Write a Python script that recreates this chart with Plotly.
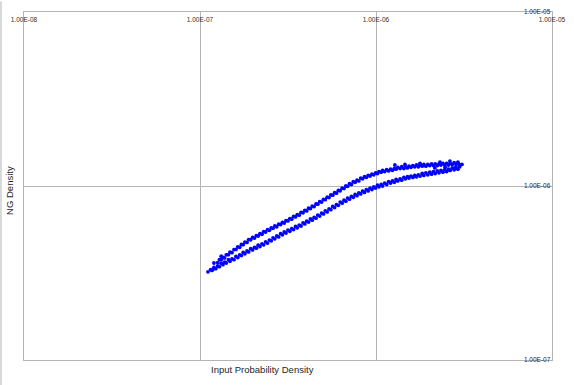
import plotly.graph_objects as go

# ---- data ----
# lower band, centre row
x_lower = [1.15e-7, 1.20e-7, 1.26e-7, 1.32e-7, 1.38e-7, 1.45e-7, 1.52e-7, 1.60e-7, 1.68e-7, 1.76e-7,
           1.85e-7, 1.94e-7, 2.04e-7, 2.14e-7, 2.25e-7, 2.36e-7, 2.48e-7, 2.60e-7, 2.73e-7, 2.87e-7,
           3.01e-7, 3.16e-7, 3.32e-7, 3.49e-7, 3.66e-7, 3.85e-7, 4.04e-7, 4.24e-7, 4.45e-7, 4.67e-7,
           4.91e-7, 5.15e-7, 5.41e-7, 5.68e-7, 5.96e-7, 6.26e-7, 6.58e-7, 6.90e-7, 7.25e-7, 7.61e-7,
           7.99e-7, 8.39e-7, 8.81e-7, 9.25e-7, 9.71e-7,
           1.02e-6, 1.07e-6, 1.12e-6, 1.18e-6, 1.24e-6, 1.30e-6, 1.37e-6, 1.44e-6, 1.51e-6, 1.58e-6,
           1.66e-6, 1.74e-6, 1.83e-6, 1.92e-6, 2.02e-6, 2.12e-6, 2.23e-6, 2.34e-6, 2.46e-6, 2.58e-6,
           2.71e-6, 2.85e-6, 2.99e-6]
y_lower = [3.31e-7, 3.40e-7, 3.47e-7, 3.60e-7, 3.65e-7, 3.77e-7, 3.81e-7, 3.94e-7, 4.02e-7, 4.15e-7,
           4.23e-7, 4.36e-7, 4.44e-7, 4.57e-7, 4.65e-7, 4.77e-7, 4.89e-7, 5.04e-7, 5.16e-7, 5.32e-7,
           5.44e-7, 5.58e-7, 5.69e-7, 5.85e-7, 5.96e-7, 6.14e-7, 6.28e-7, 6.46e-7, 6.60e-7, 6.81e-7,
           6.99e-7, 7.20e-7, 7.38e-7, 7.63e-7, 7.82e-7, 8.08e-7, 8.28e-7, 8.52e-7, 8.72e-7, 8.95e-7,
           9.13e-7, 9.35e-7, 9.52e-7, 9.71e-7, 9.87e-7,
           1.01e-6, 1.02e-6, 1.04e-6, 1.06e-6, 1.07e-6, 1.09e-6, 1.10e-6, 1.12e-6, 1.13e-6, 1.14e-6,
           1.15e-6, 1.16e-6, 1.18e-6, 1.19e-6, 1.20e-6, 1.21e-6, 1.22e-6, 1.23e-6, 1.24e-6, 1.25e-6,
           1.27e-6, 1.28e-6, 1.29e-6]

# lower band, bottom edge row
x_lower_edge = [1.17e-7, 1.23e-7, 1.29e-7, 1.35e-7, 1.41e-7, 1.48e-7, 1.56e-7, 1.64e-7, 1.72e-7, 1.80e-7,
                1.89e-7, 1.99e-7, 2.09e-7, 2.19e-7, 2.30e-7, 2.42e-7, 2.54e-7, 2.66e-7, 2.80e-7, 2.94e-7,
                3.08e-7, 3.24e-7, 3.40e-7, 3.57e-7, 3.75e-7, 3.94e-7, 4.14e-7, 4.34e-7, 4.56e-7, 4.79e-7,
                5.03e-7, 5.28e-7, 5.54e-7, 5.82e-7, 6.11e-7, 6.42e-7, 6.74e-7, 7.07e-7, 7.43e-7, 7.80e-7,
                8.19e-7, 8.60e-7, 9.03e-7, 9.48e-7, 9.95e-7,
                1.04e-6, 1.09e-6, 1.15e-6, 1.21e-6, 1.27e-6, 1.33e-6, 1.40e-6, 1.47e-6, 1.54e-6, 1.62e-6,
                1.70e-6, 1.78e-6, 1.87e-6, 1.97e-6, 2.07e-6, 2.17e-6, 2.28e-6, 2.40e-6, 2.52e-6, 2.64e-6,
                2.78e-6, 2.92e-6]
y_lower_edge = [3.27e-7, 3.35e-7, 3.44e-7, 3.53e-7, 3.61e-7, 3.69e-7, 3.77e-7, 3.88e-7, 3.98e-7, 4.08e-7,
                4.18e-7, 4.29e-7, 4.39e-7, 4.49e-7, 4.59e-7, 4.70e-7, 4.84e-7, 4.97e-7, 5.10e-7, 5.24e-7,
                5.37e-7, 5.49e-7, 5.62e-7, 5.75e-7, 5.89e-7, 6.05e-7, 6.20e-7, 6.36e-7, 6.53e-7, 6.72e-7,
                6.91e-7, 7.10e-7, 7.31e-7, 7.52e-7, 7.74e-7, 7.97e-7, 8.18e-7, 8.40e-7, 8.61e-7, 8.80e-7,
                9.00e-7, 9.19e-7, 9.37e-7, 9.54e-7, 9.73e-7,
                9.89e-7, 1.00e-6, 1.02e-6, 1.04e-6, 1.05e-6, 1.07e-6, 1.08e-6, 1.10e-6, 1.11e-6, 1.12e-6,
                1.13e-6, 1.14e-6, 1.15e-6, 1.16e-6, 1.17e-6, 1.18e-6, 1.19e-6, 1.20e-6, 1.21e-6, 1.23e-6,
                1.24e-6, 1.25e-6]

# upper band, centre row
x_upper = [1.26e-7, 1.32e-7, 1.38e-7, 1.45e-7, 1.52e-7, 1.60e-7, 1.68e-7, 1.76e-7,
           1.85e-7, 1.94e-7, 2.04e-7, 2.14e-7, 2.25e-7, 2.36e-7, 2.48e-7, 2.60e-7, 2.73e-7, 2.87e-7,
           3.01e-7, 3.16e-7, 3.32e-7, 3.49e-7, 3.66e-7, 3.85e-7, 4.04e-7, 4.24e-7, 4.45e-7, 4.67e-7,
           4.91e-7, 5.15e-7, 5.41e-7, 5.68e-7, 5.96e-7, 6.26e-7, 6.58e-7, 6.90e-7, 7.25e-7, 7.61e-7,
           7.99e-7, 8.39e-7, 8.81e-7, 9.25e-7, 9.71e-7,
           1.02e-6, 1.07e-6, 1.12e-6, 1.18e-6, 1.24e-6, 1.30e-6, 1.37e-6, 1.44e-6, 1.51e-6, 1.58e-6,
           1.66e-6, 1.74e-6, 1.83e-6, 1.92e-6, 2.02e-6, 2.12e-6, 2.23e-6, 2.34e-6, 2.46e-6, 2.58e-6,
           2.71e-6, 2.85e-6, 2.99e-6]
y_upper = [3.63e-7, 3.77e-7, 3.86e-7, 4.03e-7, 4.14e-7, 4.32e-7, 4.44e-7, 4.60e-7,
           4.74e-7, 4.91e-7, 5.02e-7, 5.16e-7, 5.28e-7, 5.44e-7, 5.56e-7, 5.71e-7, 5.83e-7, 6.00e-7,
           6.12e-7, 6.30e-7, 6.45e-7, 6.64e-7, 6.80e-7, 7.02e-7, 7.19e-7, 7.42e-7, 7.62e-7, 7.86e-7,
           8.08e-7, 8.35e-7, 8.58e-7, 8.86e-7, 9.09e-7, 9.39e-7, 9.66e-7, 9.96e-7, 1.02e-6, 1.05e-6,
           1.07e-6, 1.10e-6, 1.12e-6, 1.14e-6, 1.16e-6,
           1.18e-6, 1.20e-6, 1.21e-6, 1.22e-6, 1.23e-6, 1.25e-6, 1.26e-6, 1.26e-6, 1.27e-6, 1.28e-6,
           1.29e-6, 1.29e-6, 1.30e-6, 1.30e-6, 1.31e-6, 1.31e-6, 1.31e-6, 1.32e-6, 1.32e-6, 1.32e-6,
           1.33e-6, 1.33e-6, 1.32e-6]

# upper band, top edge row
x_upper_edge = [1.29e-7, 1.35e-7, 1.41e-7, 1.48e-7, 1.56e-7, 1.64e-7, 1.72e-7, 1.80e-7,
                1.89e-7, 1.99e-7, 2.09e-7, 2.19e-7, 2.30e-7, 2.42e-7, 2.54e-7, 2.66e-7, 2.80e-7, 2.94e-7,
                3.08e-7, 3.24e-7, 3.40e-7, 3.57e-7, 3.75e-7, 3.94e-7, 4.14e-7, 4.34e-7, 4.56e-7, 4.79e-7,
                5.03e-7, 5.28e-7, 5.54e-7, 5.82e-7, 6.11e-7, 6.42e-7, 6.74e-7, 7.07e-7, 7.43e-7, 7.80e-7,
                8.19e-7, 8.60e-7, 9.03e-7, 9.48e-7, 9.95e-7,
                1.04e-6, 1.09e-6, 1.15e-6, 1.21e-6, 1.27e-6, 1.33e-6, 1.40e-6, 1.47e-6, 1.54e-6, 1.62e-6,
                1.70e-6, 1.78e-6, 1.87e-6, 1.97e-6, 2.07e-6, 2.17e-6, 2.28e-6, 2.40e-6, 2.52e-6, 2.64e-6,
                2.78e-6, 2.92e-6]
y_upper_edge = [3.77e-7, 3.89e-7, 4.02e-7, 4.17e-7, 4.31e-7, 4.47e-7, 4.61e-7, 4.76e-7,
                4.92e-7, 5.06e-7, 5.19e-7, 5.32e-7, 5.47e-7, 5.61e-7, 5.75e-7, 5.89e-7, 6.03e-7, 6.18e-7,
                6.33e-7, 6.50e-7, 6.68e-7, 6.85e-7, 7.05e-7, 7.25e-7, 7.45e-7, 7.67e-7, 7.89e-7, 8.13e-7,
                8.38e-7, 8.63e-7, 8.89e-7, 9.15e-7, 9.42e-7, 9.72e-7, 1.00e-6, 1.03e-6, 1.06e-6, 1.08e-6,
                1.11e-6, 1.13e-6, 1.15e-6, 1.17e-6, 1.19e-6,
                1.21e-6, 1.23e-6, 1.24e-6, 1.25e-6, 1.26e-6, 1.28e-6, 1.29e-6, 1.29e-6, 1.30e-6, 1.31e-6,
                1.32e-6, 1.32e-6, 1.33e-6, 1.33e-6, 1.34e-6, 1.34e-6, 1.34e-6, 1.35e-6, 1.35e-6, 1.35e-6,
                1.36e-6, 1.35e-6]

# scattered points (start of the bands, sparse dots, end cluster)
x_extra = [1.11e-7, 1.19e-7, 1.20e-7, 1.32e-7, 1.28e-6, 1.46e-6, 1.78e-6,
           2.31e-6, 2.63e-6, 2.92e-6, 3.08e-6, 2.47e-6, 2.81e-6, 2.16e-6, 2.63e-6]
y_extra = [3.21e-7, 3.33e-7, 3.61e-7, 3.95e-7, 1.32e-6, 1.33e-6, 1.35e-6,
           1.37e-6, 1.39e-6, 1.37e-6, 1.33e-6, 1.28e-6, 1.27e-6, 1.27e-6, 1.23e-6]

x_tickvals = [1e-8, 1e-7, 1e-6, 1e-5]
x_ticktext = ["1.00E-08", "1.00E-07", "1.00E-06", "1.00E-05"]
y_tickvals = [1e-7, 1e-6, 1e-5]
y_ticktext = ["1.00E-07", "1.00E-06", "1.00E-05"]

BLUE = "#0000FF"
GRID = "#b4b4b4"

fig = go.Figure()
for xs, ys in [(x_lower, y_lower), (x_lower_edge, y_lower_edge),
               (x_upper, y_upper), (x_upper_edge, y_upper_edge), (x_extra, y_extra)]:
    fig.add_trace(go.Scatter(x=xs, y=ys, mode="markers",
                             marker=dict(color=BLUE, size=3.8, line=dict(width=0)),
                             showlegend=False, hoverinfo="x+y"))

fig.update_layout(
    width=574, height=385,
    margin=dict(l=24, r=22, t=8, b=25),
    paper_bgcolor="white", plot_bgcolor="white",
    font=dict(family="Liberation Sans, Arial, sans-serif"),
    xaxis=dict(type="log", range=[-8, -5], side="top",
               tickvals=x_tickvals, ticktext=x_ticktext,
               ticklabelposition="inside", ticklabeloverflow="allow",
               ticklabelstandoff=4,
               ticks="", showgrid=True, gridcolor=GRID, gridwidth=1,
               showline=True, linecolor=GRID, linewidth=1, mirror=True,
               tickfont=dict(size=6.5, color="#3b2a1a"), zeroline=False),
    yaxis=dict(type="log", range=[-7, -5], side="right",
               tickvals=y_tickvals, ticktext=y_ticktext,
               ticklabelposition="inside", ticklabeloverflow="allow",
               ticks="", showgrid=True, gridcolor=GRID, gridwidth=1,
               showline=True, linecolor=GRID, linewidth=1, mirror=True,
               tickfont=dict(size=6.5, color="#22224a"), zeroline=False),
    annotations=[
        dict(text="Input Probability Density", xref="paper", yref="paper",
             x=0.4508, y=-0.0284, xanchor="center", yanchor="middle",
             showarrow=False, font=dict(size=9.5, color="#1e1e1e")),
        dict(text="NG Density", xref="paper", yref="paper",
             x=-0.0265, y=0.486, xanchor="center", yanchor="middle", textangle=-90,
             showarrow=False, font=dict(size=9.5, color="#1e1e1e")),
    ],
    shapes=[
        dict(type="line", xref="paper", yref="paper", x0=-0.0436, x1=-0.0436,
             y0=-0.08, y1=1.03, line=dict(color=GRID, width=1)),
    ],
)

fig.write_html("out.html", config={"displayModeBar": False},
               post_script="document.body.style.margin='0px';document.body.style.overflow='hidden';")
